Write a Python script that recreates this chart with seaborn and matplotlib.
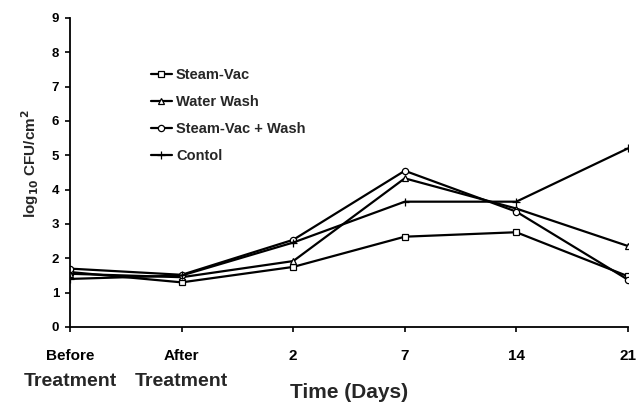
import matplotlib
matplotlib.use("Agg")
import matplotlib.pyplot as plt
import seaborn as sns
import pandas as pd

# time points (categories) and log10 CFU/cm2 per treatment
times = ["Before", "After", "2", "7", "14", "21"]
time_sub = ["Treatment", "Treatment", "", "", "", ""]
steam_vac = [1.60, 1.30, 1.75, 2.63, 2.76, 1.48]
water_wash = [1.55, 1.45, 1.92, 4.33, 3.45, 2.36]
steam_wash = [1.70, 1.52, 2.54, 4.55, 3.36, 1.38]
control = [1.40, 1.50, 2.46, 3.65, 3.65, 5.20]

series = ["Steam-Vac", "Water Wash", "Steam-Vac + Wash", "Contol"]
values = [steam_vac, water_wash, steam_wash, control]
markers = ["s", "^", "o", "+"]

df = pd.DataFrame({
    "time": times * len(series),
    "treatment": [s for s in series for _ in times],
    "cfu": [v for vals in values for v in vals],
})

sns.set_theme(style="ticks")
plt.rcParams["font.family"] = ["Liberation Sans", "DejaVu Sans"]
plt.rcParams["font.weight"] = "bold"

fig = plt.figure(figsize=(6.38, 4.09), dpi=100)
ax = fig.add_axes([0.110, 0.2005, 0.874, 0.7555])

for name, mk in zip(series, markers):
    sub = df[df["treatment"] == name]
    sns.lineplot(data=sub, x="time", y="cfu", label=name, color="black",
                 marker=mk, sort=False, linewidth=1.6,
                 markersize=4.5 if mk != "+" else 6,
                 markerfacecolor="white", markeredgecolor="black",
                 markeredgewidth=0.9, ax=ax)

ax.set_xlim(0, 5)
ax.set_ylim(0, 9)
ax.set_yticks(range(0, 10))
sns.despine(ax=ax)
for sp in ["left", "bottom"]:
    ax.spines[sp].set_color("black")
    ax.spines[sp].set_linewidth(1.3)
ax.tick_params(axis="both", direction="out", length=3.8, width=1.2, color="black",
               labelsize=9.5, labelcolor="black", pad=4)
ax.tick_params(axis="x", labelsize=11, pad=12)
for lbl in ax.get_xticklabels() + ax.get_yticklabels():
    lbl.set_fontweight("bold")

# second line of the first two category labels
for i, s in enumerate(time_sub):
    if s:
        ax.text(i, -0.175, s, transform=ax.get_xaxis_transform(),
                ha="center", va="center", fontsize=14, fontweight="bold")

ax.set_xlabel("Time (Days)", fontsize=15, fontweight="bold")
ax.xaxis.set_label_coords(0.5, -0.18)
ax.set_ylabel(r"log$_{10}$ CFU/cm$^2$", fontsize=11, fontweight="bold")
ax.yaxis.set_label_coords(-0.052, 0.53)

leg = ax.legend(loc="upper left", bbox_to_anchor=(0.135, 0.858), frameon=False,
                fontsize=10.5, handlelength=1.4, handletextpad=0.3,
                labelspacing=0.9, borderaxespad=0)
for t in leg.get_texts():
    t.set_fontweight("bold")

fig.savefig("out.png", dpi=100)
